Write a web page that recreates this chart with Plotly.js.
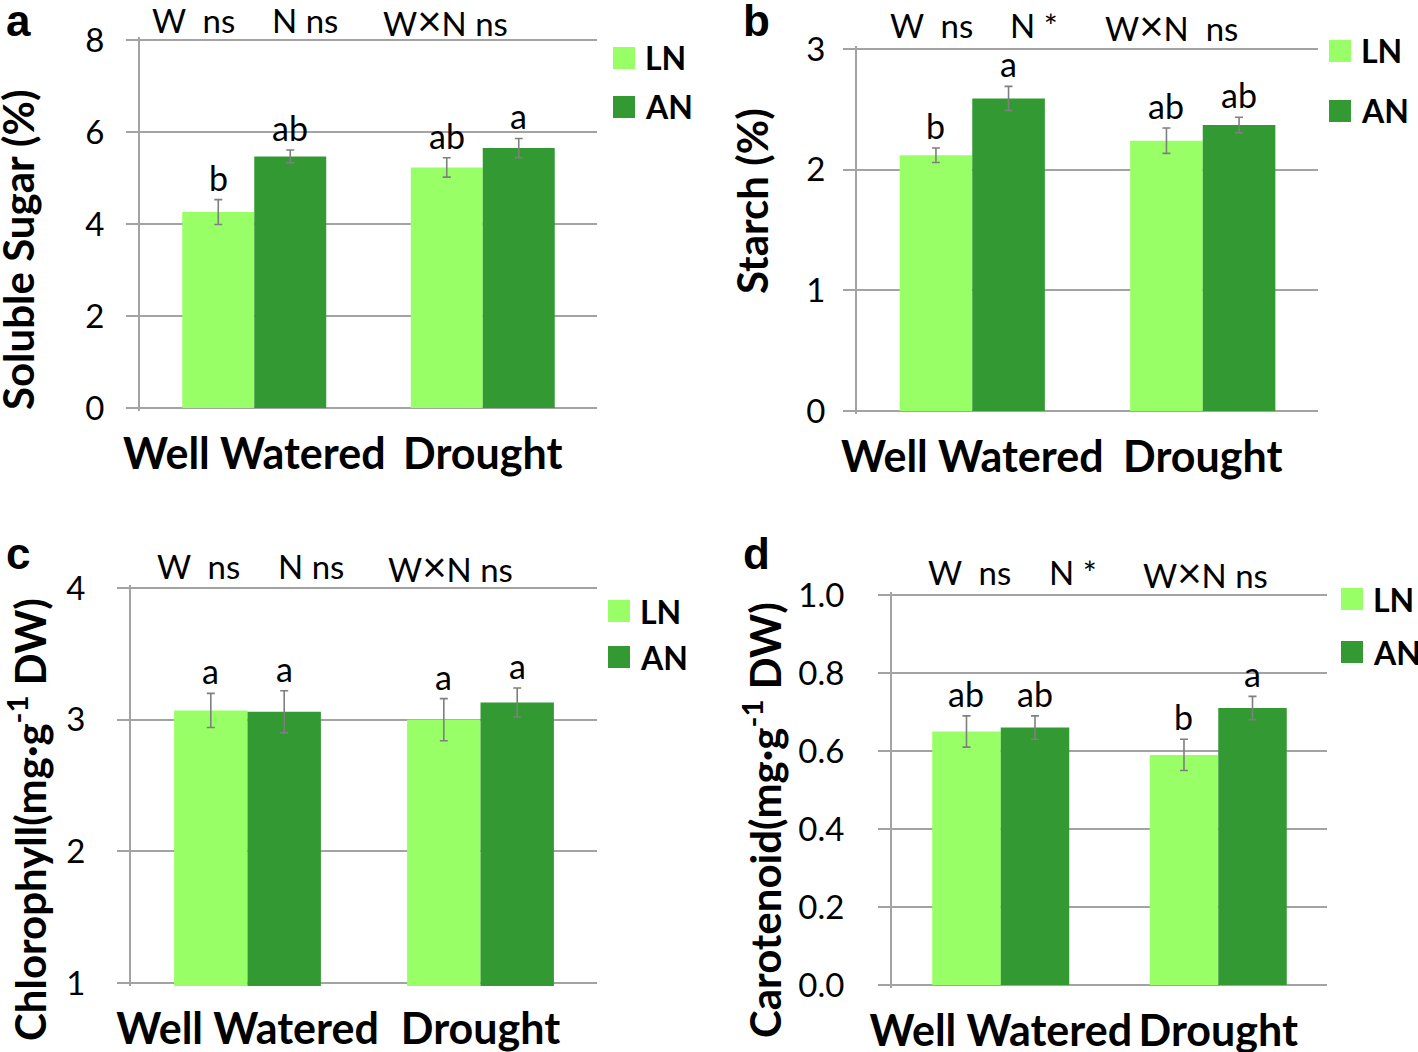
<!DOCTYPE html>
<html>
<head>
<meta charset="utf-8">
<script src="https://cdn.plot.ly/plotly-3.0.1.min.js"></script>
<style>
  html, body { margin: 0; padding: 0; background: #fff; }
  #chart { width: 1418px; height: 1052px; }
</style>
</head>
<body>
<div id="chart"></div>
<script>
// Four bar panels: soluble sugar, starch, chlorophyll, carotenoid (LN vs AN, well watered vs drought)

const W = 1418, H = 1052;
const FONT = 'Lato, "Open Sans", sans-serif';
const LN_COLOR = '#99ff66';
const AN_COLOR = '#339933';
const GRID = '#a3a3a3';

const groups = ['Well Watered', 'Drought'];

// a — soluble sugar (%)
const sugarLN = [4.26, 5.23];
const sugarLNErr = [0.27, 0.21];
const sugarAN = [5.47, 5.65];
const sugarANErr = [0.14, 0.21];
const sugarLNLetters = ['b', 'ab'];
const sugarANLetters = ['ab', 'a'];
const sugarStats = ['W\u00a0\u00a0ns', 'N ns', 'W×N ns'];

// b — starch (%)
const starchLN = [2.12, 2.24];
const starchLNErr = [0.06, 0.105];
const starchAN = [2.59, 2.37];
const starchANErr = [0.10, 0.065];
const starchLNLetters = ['b', 'ab'];
const starchANLetters = ['a', 'ab'];
const starchStats = ['W\u00a0\u00a0ns', 'N *', 'W×N\u00a0\u00a0ns'];

// c — chlorophyll (mg·g-1 DW)
const chlLN = [3.07, 3.00];
const chlLNErr = [0.13, 0.16];
const chlAN = [3.06, 3.13];
const chlANErr = [0.16, 0.11];
const chlLNLetters = ['a', 'a'];
const chlANLetters = ['a', 'a'];
const chlStats = ['W\u00a0\u00a0ns', 'N ns', 'W×N ns'];

// d — carotenoid (mg·g-1 DW)
const carLN = [0.65, 0.59];
const carLNErr = [0.04, 0.04];
const carAN = [0.66, 0.71];
const carANErr = [0.03, 0.03];
const carLNLetters = ['ab', 'b'];
const carANLetters = ['ab', 'a'];
const carStats = ['W\u00a0\u00a0ns', 'N *', 'W×N ns'];

// pixel -> paper helpers
const px = (x) => x / W;
const py = (y) => 1 - y / H;

const BARGAP = 0.37;
const HALF = (1 - BARGAP) / 4; // offset of each bar centre from category centre
const EDGE = 3; // px of slack so the gridlines at the range ends are kept

const panels = [
  { id: '', label: 'a', box: [140, 597, 40, 408], range: [0, 8], dtick: 2, fmt: '',
    standoff: 15, title: 'Soluble Sugar (%)', titleXY: [18, 250],
    ln: sugarLN, lnErr: sugarLNErr, an: sugarAN, anErr: sugarANErr,
    lnLet: sugarLNLetters, anLet: sugarANLetters,
    stats: sugarStats, statX: [150, 270, 381], statY: 20,
    labelXY: [18, 21], legend: [613, 47, 96] },
  { id: '2', label: 'b', box: [857, 1318, 49, 411], range: [0, 3], dtick: 1, fmt: '',
    standoff: 11, title: 'Starch (%)', titleXY: [752, 201],
    ln: starchLN, lnErr: starchLNErr, an: starchAN, anErr: starchANErr,
    lnLet: starchLNLetters, anLet: starchANLetters,
    stats: starchStats, statX: [888, 1008, 1103], statY: 25,
    labelXY: [757, 21], legend: [1329, 40, 100] },
  { id: '3', label: 'c', box: [131, 597, 588, 983], range: [1, 4], dtick: 1, fmt: '',
    standoff: 25, title: 'Chlorophyll(mg·g<sup>-1</sup> DW)', titleXY: [27, 820],
    ln: chlLN, lnErr: chlLNErr, an: chlAN, anErr: chlANErr,
    lnLet: chlLNLetters, anLet: chlANLetters,
    stats: chlStats, statX: [155, 276, 386], statY: 566,
    labelXY: [18, 553], legend: [608, 600, 646] },
  { id: '4', label: 'd', box: [892, 1327, 595, 985], range: [0, 1], dtick: 0.2, fmt: '.1f',
    standoff: 27, title: 'Carotenoid(mg·g<sup>-1</sup> DW)', titleXY: [762, 820],
    ln: carLN, lnErr: carLNErr, an: carAN, anErr: carANErr,
    lnLet: carLNLetters, anLet: carANLetters,
    stats: carStats, statX: [926, 1047, 1141], statY: 572,
    labelXY: [757, 553], legend: [1341, 588, 641] },
];

const traces = [];
const annotations = [];
const shapes = [];
const layout = {
  width: W, height: H,
  margin: { l: 0, r: 0, t: 0, b: 0 },
  paper_bgcolor: '#fff', plot_bgcolor: '#fff',
  showlegend: false,
  barmode: 'group', bargap: BARGAP, bargroupgap: 0,
  font: { family: FONT, color: '#000' },
};

const errStyle = (arr) => ({ type: 'data', array: arr, visible: true,
  color: '#7f7f7f', thickness: 1.6, width: 4 });

for (const p of panels) {
  const xa = 'x' + p.id, ya = 'y' + p.id;
  const [x0, x1, y0, y1] = p.box;
  const pad = (p.range[1] - p.range[0]) * EDGE / (y1 - y0);

  traces.push({ type: 'bar', name: 'LN', x: groups, y: p.ln, xaxis: xa, yaxis: ya,
    marker: { color: LN_COLOR }, error_y: errStyle(p.lnErr), hoverinfo: 'y' });
  traces.push({ type: 'bar', name: 'AN', x: groups, y: p.an, xaxis: xa, yaxis: ya,
    marker: { color: AN_COLOR }, error_y: errStyle(p.anErr), hoverinfo: 'y' });

  layout['xaxis' + p.id] = {
    domain: [px(x0), px(x1)], anchor: ya, type: 'category',
    showgrid: false, showline: false, zeroline: false, ticks: '',
    tickfont: { family: FONT, size: 43, weight: 'bold', color: '#000' },
    ticklabelstandoff: 14, fixedrange: true,
  };
  layout['yaxis' + p.id] = {
    domain: [py(y1 + EDGE), py(y0 - EDGE)], anchor: xa,
    range: [p.range[0] - pad, p.range[1] + pad],
    tick0: p.range[0], dtick: p.dtick,
    tickformat: p.fmt, showgrid: true, gridcolor: GRID, gridwidth: 2,
    zeroline: false, showline: true, linecolor: GRID, linewidth: 2,
    ticks: 'outside', ticklen: 12, tickcolor: GRID, tickwidth: 2,
    tickfont: { family: FONT, size: 33, color: '#000' },
    ticklabelstandoff: p.standoff, fixedrange: true,
  };

  // significance letters above the error bars
  const letters = [[p.ln, p.lnErr, p.lnLet, -HALF], [p.an, p.anErr, p.anLet, HALF]];
  for (const [vals, errs, lets, off] of letters) {
    vals.forEach((v, i) => annotations.push({
      xref: xa, yref: ya, x: i + off, y: v + errs[i], text: lets[i],
      showarrow: false, yanchor: 'bottom', yshift: 0,
      font: { family: FONT, size: 34, color: '#000' },
    }));
  }

  // two-way ANOVA summary along the top
  p.stats.forEach((s, i) => annotations.push({
    xref: 'paper', yref: 'paper', x: px(p.statX[i]), y: py(p.statY),
    xanchor: 'left', yanchor: 'middle', showarrow: false,
    text: s.replace('×', '<span style="font-size:42px">×</span>'),
    font: { family: FONT, size: 33, color: '#000' },
  }));

  // y title
  annotations.push({
    xref: 'paper', yref: 'paper', x: px(p.titleXY[0]), y: py(p.titleXY[1]),
    xanchor: 'center', yanchor: 'middle', textangle: -90, showarrow: false,
    text: p.title, font: { family: FONT, size: 42, weight: 'bold', color: '#000' },
  });

  // panel letter
  annotations.push({
    xref: 'paper', yref: 'paper', x: px(p.labelXY[0]), y: py(p.labelXY[1]),
    xanchor: 'center', yanchor: 'middle', showarrow: false, text: p.label,
    font: { family: '"Liberation Sans", Arial, sans-serif', size: 44, weight: 'bold', color: '#000' },
  });

  // legend swatches
  const [lx, lyLN, lyAN] = p.legend;
  [[lyLN, LN_COLOR, 'LN'], [lyAN, AN_COLOR, 'AN']].forEach(([ly, col, name]) => {
    shapes.push({ type: 'rect', xref: 'paper', yref: 'paper',
      x0: px(lx), x1: px(lx + 22), y0: py(ly + 22), y1: py(ly),
      fillcolor: col, line: { width: 0 } });
    annotations.push({ xref: 'paper', yref: 'paper', x: px(lx + 30), y: py(ly + 11),
      xanchor: 'left', yanchor: 'middle', showarrow: false, text: name,
      font: { family: FONT, size: 32, weight: 'bold', color: '#000' } });
  });
}

layout.annotations = annotations;
layout.shapes = shapes;

Plotly.newPlot('chart', traces, layout, { displayModeBar: false, staticPlot: true });
</script>
</body>
</html>
